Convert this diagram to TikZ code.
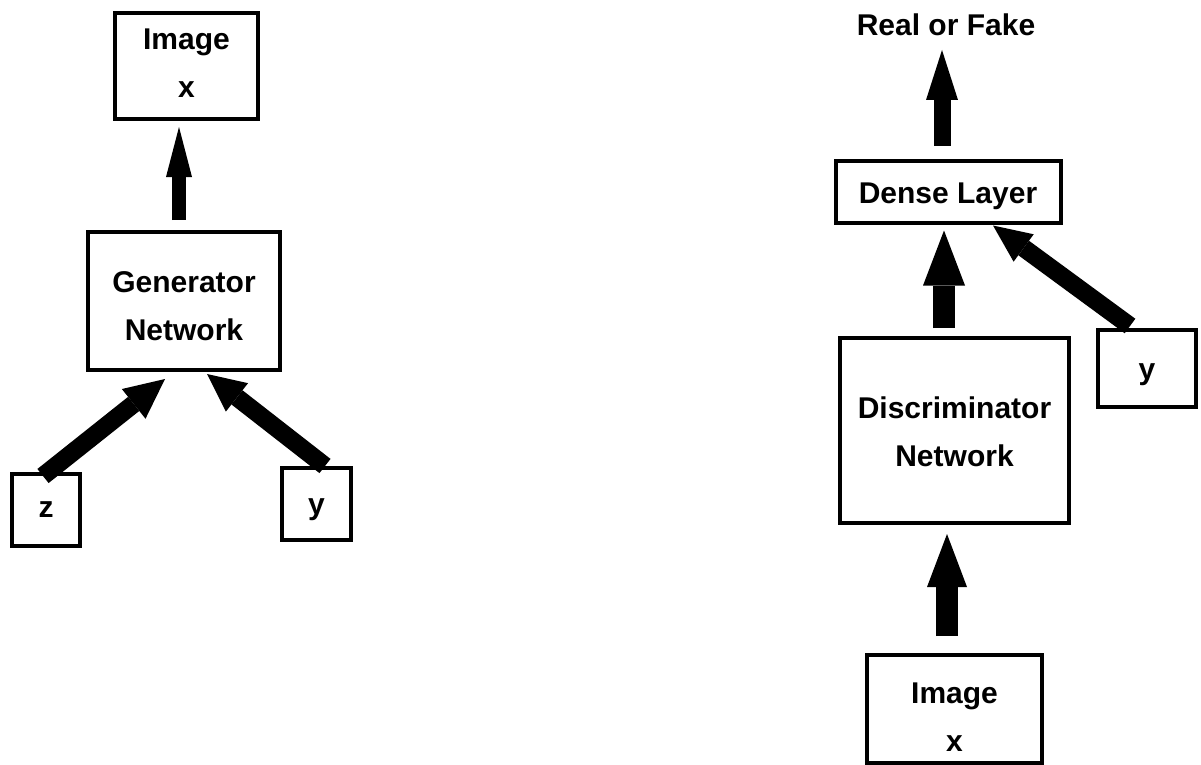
\documentclass[tikz,border=0pt]{standalone}
\usepackage{fontspec}
\setmainfont{Liberation Sans}
\usetikzlibrary{arrows.meta,calc}
\tikzset{
  box/.style={draw=black, line width=4pt, inner sep=0pt, align=center,
    font=\fontsize{30}{48}\selectfont\bfseries},
  lbl/.style={inner sep=0pt, font=\fontsize{30}{48}\selectfont\bfseries},
  fat/.style n args={3}{line width=#1, line cap=butt,
    -{Triangle[length=#3, width=#2, line width=0pt]}}
}
\begin{document}
\begin{tikzpicture}[x=1pt,y=-1pt]
\useasboundingbox (0,0) rectangle (1201,765);
\fill[white] (0,0) rectangle (1201,765);
% generator side
\node[box, minimum width=143pt, minimum height=106pt] (imgL) at (186.5,66) {Image\\x\rule[-5pt]{0pt}{5pt}};
\node[box, minimum width=192pt, minimum height=138pt] (gen) at (184,301) {\rule{0pt}{32pt}Generator\\Network};
\node[box, minimum width=68pt, minimum height=72pt] (z) at (46,510) {z};
\node[box, minimum width=69pt, minimum height=72pt] (yL) at (316.5,504) {\rule{0pt}{28pt}y};
% discriminator side
\node[lbl, anchor=base] (rof) at (946,36) {Real or Fake};
\node[box, minimum width=225pt, minimum height=62pt] (dense) at (948,191.5) {\rule{0pt}{30pt}Dense Layer};
\node[box, minimum width=229pt, minimum height=185pt] (disc) at (954.5,430.5) {\rule{0pt}{25pt}Discriminator\\Network};
\node[box, minimum width=98pt, minimum height=77pt] (yR) at (1147,368.5) {\rule{0pt}{28pt}y};
\node[box, minimum width=175pt, minimum height=108pt] (imgR) at (954.5,709) {\rule{0pt}{36pt}Image\\x};
% connectors
\draw[fat={14pt}{26pt}{50pt}] ($(gen.north)+(-5,-10)$) -- ($(imgL.south)+(-7.5,6)$);
\draw[fat={18pt}{38pt}{40pt}] ($(z.north)+(-3,4)$) -- ($(gen.south)+(-19,7)$);
\draw[fat={18pt}{36pt}{38pt}] ($(yL.north)+(8.5,0)$) -- ($(gen.south)+(23,2)$);
\draw[fat={17pt}{32pt}{50pt}] ($(dense.north)+(-6,-13)$) -- ($(rof.base)+(-4,14)$);
\draw[fat={22pt}{42pt}{55pt}] ($(disc.north)+(-10.5,-8)$) -- ($(dense.south)+(-4,6)$);
\draw[fat={18pt}{34pt}{38pt}] ($(yR.north)+(-17,-2)$) -- ($(dense.south)+(45,1)$);
\draw[fat={22pt}{40pt}{53pt}] ($(imgR.north)+(-7.5,-17)$) -- ($(disc.south)+(-7.5,9)$);
\end{tikzpicture}
\end{document}
